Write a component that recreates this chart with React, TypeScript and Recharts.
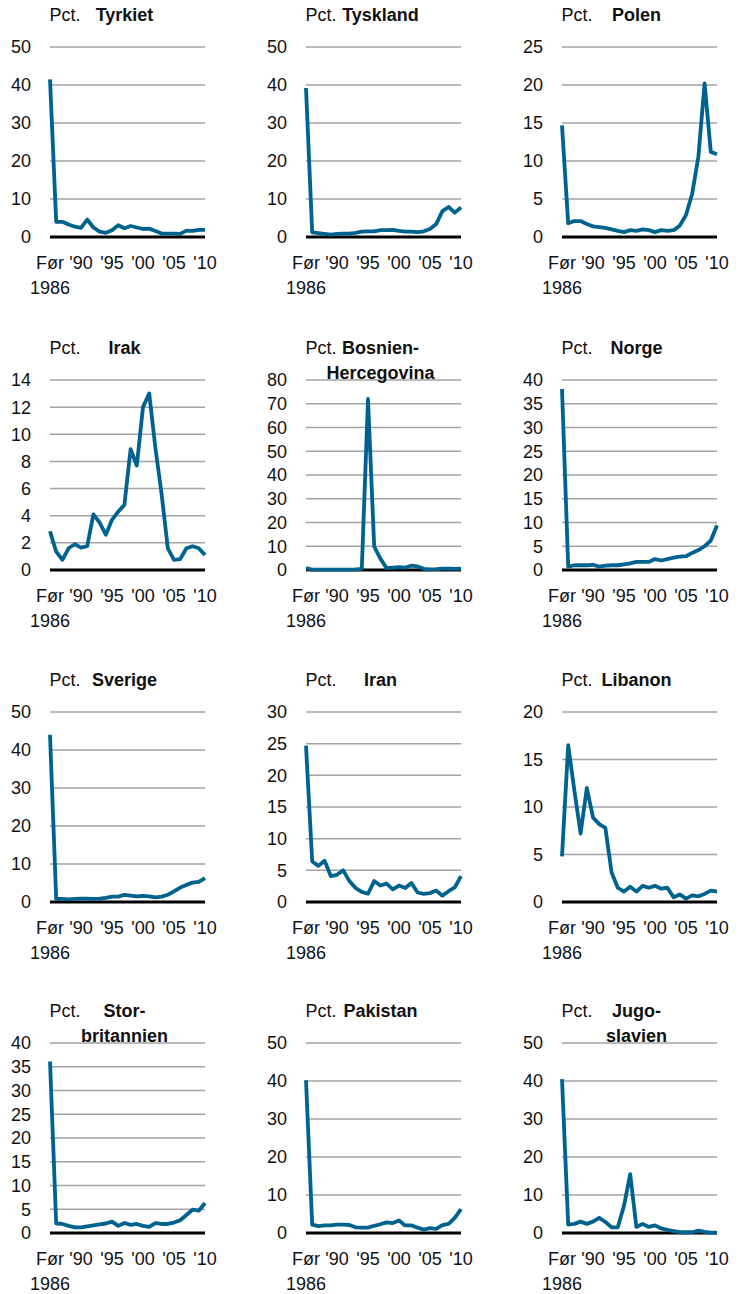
import React from "react";
import { LineChart, Line, XAxis, YAxis, CartesianGrid } from "recharts";

/* Categories: one "before" bucket, then every year 1986-2010 */
const years = [
  "Før 1986", "1986", "1987", "1988", "1989", "1990", "1991", "1992", "1993",
  "1994", "1995", "1996", "1997", "1998", "1999", "2000", "2001", "2002",
  "2003", "2004", "2005", "2006", "2007", "2008", "2009", "2010",
];

/* Share (pct.) per country */
const tyrkiet = [41.5, 4.0, 4.0, 3.3, 2.7, 2.4, 4.6, 2.5, 1.4, 1.1, 1.8, 3.1, 2.3, 2.9, 2.5, 2.1, 2.2, 1.6, 0.9, 0.9, 0.9, 0.8, 1.7, 1.6, 1.9, 1.9];
const tyskland = [39.2, 1.2, 1.0, 0.8, 0.6, 0.8, 0.9, 0.9, 1.1, 1.4, 1.5, 1.5, 1.8, 1.8, 1.9, 1.6, 1.4, 1.4, 1.3, 1.5, 2.1, 3.4, 6.8, 7.9, 6.4, 7.8];
const polen = [14.7, 1.8, 2.1, 2.1, 1.7, 1.4, 1.3, 1.2, 1.0, 0.8, 0.65, 0.9, 0.8, 1.0, 0.9, 0.65, 0.9, 0.8, 0.9, 1.5, 2.9, 5.7, 10.6, 20.2, 11.2, 10.9];
const irak = [2.85, 1.35, 0.75, 1.6, 1.9, 1.65, 1.75, 4.1, 3.5, 2.6, 3.7, 4.3, 4.8, 8.9, 7.7, 12.0, 13.0, 9.0, 5.6, 1.6, 0.75, 0.8, 1.6, 1.75, 1.6, 1.1];
const bosnien = [0.8, 0.2, 0.2, 0.2, 0.2, 0.2, 0.2, 0.2, 0.3, 0.5, 72.0, 9.8, 4.8, 0.8, 1.0, 1.2, 1.0, 1.8, 1.5, 0.5, 0.3, 0.4, 0.6, 0.6, 0.5, 0.6];
const norge = [38.1, 0.7, 1.0, 1.0, 1.0, 1.1, 0.7, 0.9, 1.0, 1.0, 1.2, 1.4, 1.7, 1.7, 1.7, 2.3, 2.0, 2.3, 2.6, 2.8, 2.9, 3.6, 4.2, 5.0, 6.2, 9.4];
const sverige = [44.0, 0.8, 0.8, 0.7, 0.8, 0.9, 0.9, 0.8, 0.9, 1.1, 1.4, 1.4, 1.9, 1.7, 1.5, 1.6, 1.5, 1.2, 1.4, 1.9, 2.8, 3.8, 4.5, 5.1, 5.3, 6.3];
const iran = [24.7, 6.4, 5.7, 6.5, 4.1, 4.3, 5.0, 3.3, 2.2, 1.6, 1.3, 3.3, 2.6, 2.9, 2.0, 2.6, 2.2, 3.0, 1.5, 1.3, 1.4, 1.8, 1.0, 1.7, 2.3, 4.1];
const libanon = [4.8, 16.5, 11.7, 7.2, 12.0, 8.9, 8.2, 7.8, 3.1, 1.5, 1.1, 1.6, 1.1, 1.7, 1.5, 1.7, 1.4, 1.5, 0.5, 0.8, 0.35, 0.7, 0.6, 0.85, 1.2, 1.1];
const storbritannien = [36.1, 2.0, 1.9, 1.5, 1.2, 1.2, 1.4, 1.6, 1.8, 2.0, 2.4, 1.5, 2.1, 1.7, 1.9, 1.5, 1.3, 2.1, 1.9, 1.9, 2.2, 2.7, 3.8, 4.9, 4.7, 6.3];
const pakistan = [40.2, 2.2, 1.8, 2.0, 2.0, 2.2, 2.2, 2.1, 1.5, 1.4, 1.4, 1.9, 2.3, 2.8, 2.6, 3.3, 2.0, 2.0, 1.4, 0.9, 1.3, 1.1, 2.1, 2.4, 4.0, 6.3];
const jugoslavien = [40.5, 2.2, 2.4, 3.0, 2.4, 3.0, 4.0, 2.9, 1.5, 1.5, 7.2, 15.5, 1.6, 2.4, 1.6, 2.0, 1.2, 0.8, 0.5, 0.2, 0.2, 0.2, 0.6, 0.3, 0.1, 0.1];

const ticks50 = [0, 10, 20, 30, 40, 50];
const ticks25 = [0, 5, 10, 15, 20, 25];
const ticks14 = [0, 2, 4, 6, 8, 10, 12, 14];
const ticks80 = [0, 10, 20, 30, 40, 50, 60, 70, 80];
const ticks40 = [0, 5, 10, 15, 20, 25, 30, 35, 40];
const ticks30 = [0, 5, 10, 15, 20, 25, 30];
const ticks20 = [0, 5, 10, 15, 20];

const panels = [
  { title: ["Tyrkiet"], values: tyrkiet, ticks: ticks50 },
  { title: ["Tyskland"], values: tyskland, ticks: ticks50 },
  { title: ["Polen"], values: polen, ticks: ticks25 },
  { title: ["Irak"], values: irak, ticks: ticks14 },
  { title: ["Bosnien-", "Hercegovina"], values: bosnien, ticks: ticks80 },
  { title: ["Norge"], values: norge, ticks: ticks40 },
  { title: ["Sverige"], values: sverige, ticks: ticks50 },
  { title: ["Iran"], values: iran, ticks: ticks30 },
  { title: ["Libanon"], values: libanon, ticks: ticks20 },
  { title: ["Stor-", "britannien"], values: storbritannien, ticks: ticks40 },
  { title: ["Pakistan"], values: pakistan, ticks: ticks50 },
  { title: ["Jugo-", "slavien"], values: jugoslavien, ticks: ticks50 },
];

const FONT = '"Liberation Sans", Arial, sans-serif';
const LINE_COLOR = "#00628f";
const colLeft = [0, 256, 512];
const rowTop = [0, 333, 665, 996];

/* chart geometry (plot area 50..205 x 47..237) */
const CHART_W = 230;
const CHART_H = 300;
const PLOT_BOTTOM = 237;

function YearTick(props: any) {
  const { x, y, payload } = props;
  const v: string = payload.value;
  if (v === "Før 1986") {
    return (
      <g>
        <text x={x} y={y + 32} textAnchor="middle" fontSize={18} fill="#111">Før</text>
        <text x={x} y={y + 57} textAnchor="middle" fontSize={18} fill="#111">1986</text>
      </g>
    );
  }
  return (
    <text x={x} y={y + 32} textAnchor="middle" fontSize={18} fill="#111">
      {"'" + v.slice(2)}
    </text>
  );
}

// grey grid, heavy black line at zero (kept under the series)
function GridLine(props: any) {
  const { x1, x2, y1, y2 } = props;
  const isZero = Math.abs(y1 - PLOT_BOTTOM) < 1;
  return (
    <line
      key={props.key}
      x1={x1}
      x2={x2}
      y1={y1}
      y2={y2}
      stroke={isZero ? "#000" : "#a3a3a3"}
      strokeWidth={isZero ? 3 : 1.5}
    />
  );
}

function Panel({ title, values, ticks }: { title: string[]; values: number[]; ticks: number[] }) {
  const data = years.map((year, i) => ({ year, v: values[i] }));
  return (
    <div style={{ position: "relative", width: CHART_W, height: CHART_H }}>
      <LineChart
        width={CHART_W}
        height={CHART_H}
        data={data}
        margin={{ top: 47, right: 25, left: 0, bottom: 3 }}
      >
        <CartesianGrid vertical={false} horizontal={GridLine} />
        <XAxis
          dataKey="year"
          interval={4}
          height={60}
          axisLine={false}
          tickLine={false}
          tickSize={0}
          tickMargin={0}
          tick={<YearTick />}
        />
        <YAxis
          width={50}
          domain={[ticks[0], ticks[ticks.length - 1]]}
          ticks={ticks}
          interval={0}
          axisLine={false}
          tickLine={false}
          tickSize={0}
          tickMargin={19}
          tick={{ fontSize: 18, fill: "#111", fontFamily: FONT }}
        />
        <Line
          type="linear"
          dataKey="v"
          stroke={LINE_COLOR}
          strokeWidth={3.8}
          strokeLinejoin="round"
          dot={false}
          activeDot={false}
          isAnimationActive={false}
        />
      </LineChart>
      <div
        style={{
          position: "absolute",
          left: 49.5,
          top: 3,
          fontSize: 18,
          lineHeight: "25px",
          color: "#111",
        }}
      >
        Pct.
      </div>
      <div
        style={{
          position: "absolute",
          left: 24.5,
          width: 200,
          top: 3,
          fontSize: 18,
          lineHeight: "25px",
          fontWeight: "bold",
          textAlign: "center",
          color: "#111",
        }}
      >
        {title.map((t) => (
          <div key={t}>{t}</div>
        ))}
      </div>
    </div>
  );
}

export default function App() {
  return (
    <div
      style={{
        position: "absolute",
        left: 0,
        top: 0,
        width: 741,
        height: 1294,
        background: "#fff",
        fontFamily: FONT,
        overflow: "hidden",
      }}
    >
      {panels.map((p, i) => (
        <div
          key={p.title.join("")}
          style={{ position: "absolute", left: colLeft[i % 3], top: rowTop[Math.floor(i / 3)] }}
        >
          <Panel title={p.title} values={p.values} ticks={p.ticks} />
        </div>
      ))}
    </div>
  );
}
